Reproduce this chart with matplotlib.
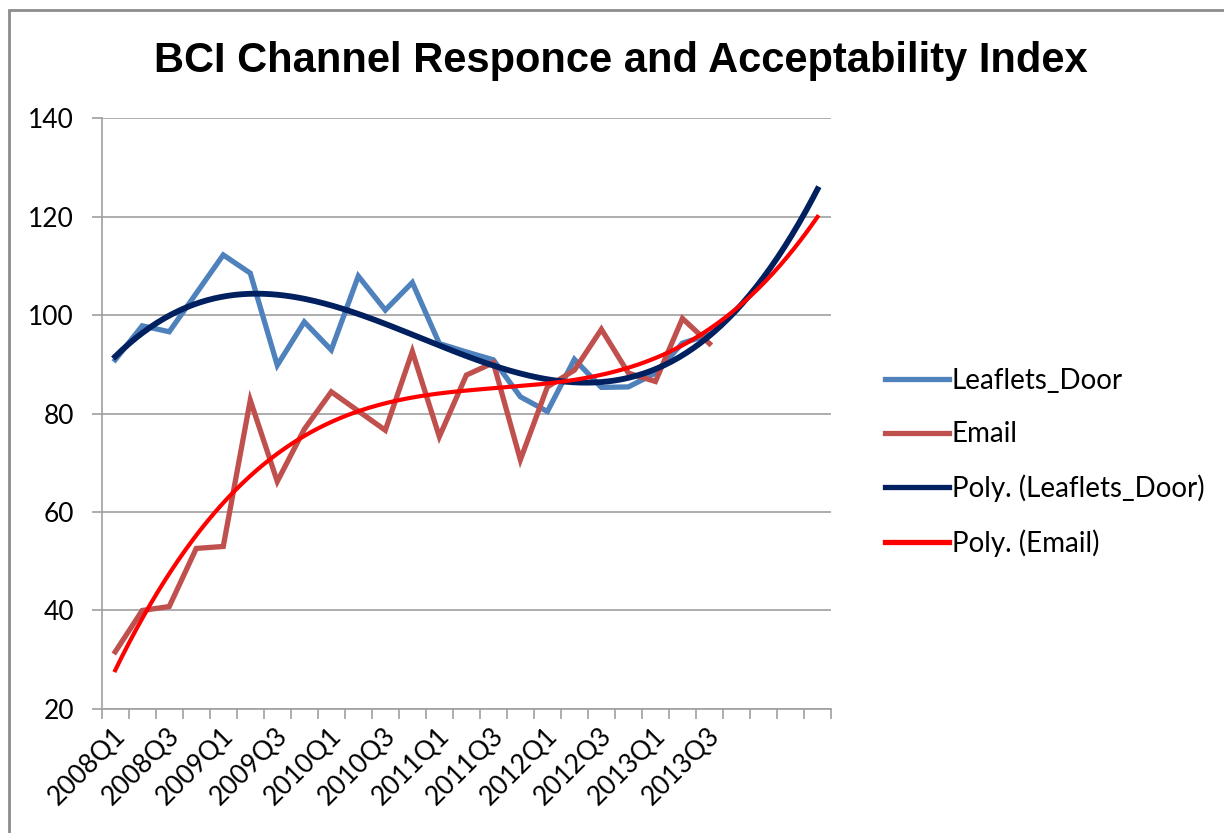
import numpy as np
import matplotlib
matplotlib.use("Agg")
import matplotlib.pyplot as plt
from matplotlib.patches import Rectangle
from matplotlib.transforms import ScaledTranslation

# quarterly index values, 2008Q1 - 2013Q3
quarters = ['2008Q1', '2008Q2', '2008Q3', '2008Q4', '2009Q1', '2009Q2', '2009Q3', '2009Q4',
            '2010Q1', '2010Q2', '2010Q3', '2010Q4', '2011Q1', '2011Q2', '2011Q3', '2011Q4',
            '2012Q1', '2012Q2', '2012Q3', '2012Q4', '2013Q1', '2013Q2', '2013Q3']
leaflets_door = [90.9, 97.8, 96.6, 104.4, 112.2, 108.5, 89.8, 98.6, 92.9, 107.9, 101.0, 106.6,
                 94.2, 92.5, 90.9, 83.4, 80.4, 91.0, 85.3, 85.4, 88.2, 94.3, 96.0]
email = [31.6, 40.0, 40.8, 52.6, 53.0, 82.7, 66.2, 76.8, 84.4, 80.5, 76.6, 92.6,
         75.3, 87.8, 90.3, 70.6, 85.4, 88.8, 97.1, 88.2, 86.5, 99.3, 94.2]
forecast_periods = 4
poly_order = 3

n = len(quarters)
x = np.arange(n)
x_trend = np.linspace(0, n - 1 + forecast_periods, 300)

# polynomial trendlines (x counted 1..n like the spreadsheet)
fit_leaf = np.polyfit(x + 1, leaflets_door, poly_order)
fit_mail = np.polyfit(x + 1, email, poly_order)

fig = plt.figure(figsize=(12.24, 8.33), dpi=100)
ax = fig.add_axes([0.0831, 0.1489, 0.5958, 0.7094])

ax.plot(x, leaflets_door, color='#4F81BD', lw=3.8, solid_joinstyle='miter',
        label='Leaflets_Door', zorder=3)
ax.plot(x, email, color='#C0504D', lw=3.8, solid_joinstyle='miter',
        label='Email', zorder=3)
ax.plot(x_trend, np.polyval(fit_leaf, x_trend + 1), color='#002060', lw=4.2,
        label='Poly. (Leaflets_Door)', zorder=4)
ax.plot(x_trend, np.polyval(fit_mail, x_trend + 1), color='#FF0000', lw=3.0,
        label='Poly. (Email)', zorder=5)

total = n + forecast_periods
ax.set_xlim(-0.5, total - 0.5)
ax.set_ylim(20, 140)
ax.set_yticks(range(20, 141, 20))
ax.grid(axis='y', color='#A0A0A0', lw=1.2)
ax.set_axisbelow(True)

for s in ['top', 'right']:
    ax.spines[s].set_visible(False)
for s in ['left', 'bottom']:
    ax.spines[s].set_color('#A0A0A0')
    ax.spines[s].set_linewidth(1.2)

# category boundary ticks, labels on every second quarter
ax.set_xticks(np.arange(-0.5, total, 1.0), minor=True)
ax.set_xticks(x[::2])
ax.set_xticklabels(quarters[::2], rotation=45, ha='right', va='center',
                   rotation_mode='anchor', fontsize=19, family='Lato')
ax.tick_params(axis='x', which='major', length=0, pad=0)
ax.tick_params(axis='x', which='minor', length=7, width=1.2, color='#A0A0A0')
ax.tick_params(axis='y', length=7, width=1.2, color='#A0A0A0', pad=13,
               labelsize=19)
for lab in ax.get_yticklabels():
    lab.set_family('Lato')
shift = ScaledTranslation(0.06, -0.23, fig.dpi_scale_trans)
for lab in ax.get_xticklabels():
    lab.set_transform(lab.get_transform() + shift)

fig.text(0.507, 0.927, 'BCI Channel Responce and Acceptability Index',
         ha='center', va='center', fontsize=30, fontweight='bold',
         family='Liberation Sans')

leg = fig.legend(loc='center left', bbox_to_anchor=(0.723, 0.4448), frameon=False,
                 prop={'family': 'Lato', 'size': 20}, handlelength=2.3,
                 handletextpad=0.1, labelspacing=0.98, borderpad=0, borderaxespad=0)
for line in leg.get_lines():
    line.set_linewidth(3.8)

# chart area border
fig.patches.append(Rectangle((9 / 1224, -0.1), 2, 1 - 10 / 833 + 0.1,
                             transform=fig.transFigure, fill=False,
                             edgecolor='#8C8C8C', lw=2))

fig.savefig('out.png', dpi=100)
